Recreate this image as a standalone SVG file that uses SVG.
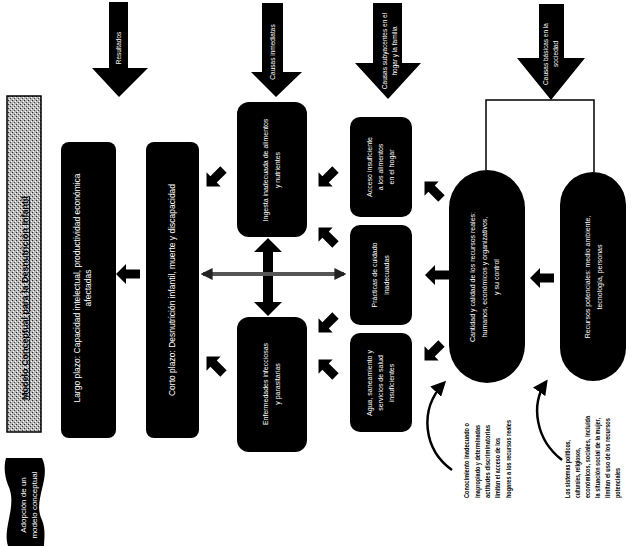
<svg xmlns="http://www.w3.org/2000/svg" width="635" height="548" viewBox="0 0 635 548">
<defs>
<pattern id="dots" width="4" height="4" patternUnits="userSpaceOnUse">
<rect width="4" height="4" fill="#b8b8b8"/>
<rect x="0" y="0" width="1" height="1" fill="#222"/>
<rect x="2" y="2" width="1" height="1" fill="#444"/>
<rect x="3" y="1" width="1" height="1" fill="#fff"/>
<rect x="1" y="3" width="1" height="1" fill="#fff"/>
</pattern>
<path id="ba" d="M-12,0 L-2,-10 L-2,-4.5 L12,-4.5 L12,4.5 L-2,4.5 L-2,10 Z"/>
<marker id="ah" viewBox="0 0 10 10" refX="8" refY="5" markerWidth="6" markerHeight="6" orient="auto-start-reverse">
<path d="M0,0 L10,5 L0,10 Z" fill="#000"/>
</marker>
<marker id="sh" viewBox="0 0 10 10" refX="8" refY="5" markerWidth="3" markerHeight="3" orient="auto-start-reverse">
<path d="M0,0 L10,5 L0,10 Z" fill="#222"/>
</marker>
</defs>
<style>
.box{fill:#000}
.wt{fill:#fff;font-family:"Liberation Sans",Arial,sans-serif;font-size:7px;text-anchor:middle}
.lbl{fill:#fff;font-family:"Liberation Sans",Arial,sans-serif;font-size:6.5px;text-anchor:middle}
.big{fill:#fff;font-family:"Liberation Sans",Arial,sans-serif;font-size:8.5px;text-anchor:middle}
.ann{fill:#000;font-family:"Liberation Sans",Arial,sans-serif;font-size:6.5px;font-weight:bold}
.conn{fill:none;stroke:#000;stroke-width:1.5}
</style>
<rect width="635" height="548" fill="#fff"/>

<g id="title">
<rect x="7" y="96" width="34" height="336" fill="url(#dots)" stroke="#000" stroke-width="1.5"/>
<text transform="translate(28,298) rotate(-90)" style="font-family:'Liberation Sans',Arial,sans-serif;font-size:9px;font-weight:bold;text-anchor:middle;fill:#000" text-decoration="underline">Modelo Conceptual para la Desnutrición Infantil</text>
</g>

<g id="banner">
<path d="M6,458 L42,458 C52,478 32,500 42,520 C46,530 44,540 44,546 L8,546 C2,528 18,505 8,485 C4,475 4,465 6,458 Z" fill="#000"/>
<text transform="translate(26,505) rotate(-90)" class="wt" style="font-size:8px">Adopción de un<tspan x="0" dy="10.5">modelo conceptual</tspan></text>
</g>

<g id="arrow-resultados">
<path d="M109,2 L128,2 L128,68 L148,68 L119,97 L92,68 L109,68 Z" fill="#000"/>
<text transform="translate(121,48) rotate(-90)" class="lbl">Resultados</text>
</g>
<g id="arrow-inmediatas">
<path d="M262,3 L283,3 L283,72 L302,72 L276,97 L251,72 L262,72 Z" fill="#000"/>
<text transform="translate(275,52) rotate(-90)" class="lbl">Causas inmediatas</text>
</g>
<g id="arrow-subyacentes">
<path d="M373,3 L402,3 L402,63 L421,63 L388,99 L355,63 L373,63 Z" fill="#000"/>
<text transform="translate(387,51) rotate(-90)" class="lbl">Causas subyacentes en el<tspan x="0" dy="10">hogar y la familia</tspan></text>
</g>
<g id="arrow-basicas">
<path d="M539,4 L564,4 L564,58 L585,58 L551,100 L517,58 L539,58 Z" fill="#000"/>
<text transform="translate(548,54) rotate(-90)" class="lbl">Causas básicas en la<tspan x="0" dy="10">sociedad</tspan></text>
</g>

<g id="largo">
<rect class="box" x="61" y="142" width="55" height="296" rx="8"/>
<text transform="translate(80,288) rotate(-90)" class="big">Largo plazo: Capacidad intelectual, productividad económica<tspan x="0" dy="10.5">afectadas</tspan></text>
</g>
<g id="corto">
<rect class="box" x="146" y="142" width="53" height="296" rx="8"/>
<text transform="translate(175,290) rotate(-90)" class="big">Corto plazo: Desnutrición infantil, muerte y discapacidad</text>
</g>

<g id="inm-ingesta">
<rect class="box" x="237" y="102" width="70" height="135" rx="12"/>
<text transform="translate(268,170) rotate(-90)" class="wt">Ingesta inadecuada de alimentos<tspan x="0" dy="12">y nutrientes</tspan></text>
</g>
<g id="inm-enfermedad">
<rect class="box" x="237" y="317" width="70" height="135" rx="12"/>
<text transform="translate(268,384) rotate(-90)" class="wt">Enfermedades infecciosas<tspan x="0" dy="12">y parasitarias</tspan></text>
</g>

<g id="sub-alimentos">
<rect class="box" x="350" y="117" width="62" height="100" rx="10"/>
<text transform="translate(372,167) rotate(-90)" class="wt">Acceso insuficiente<tspan x="0" dy="11">a los alimentos</tspan><tspan x="0" dy="11">en el hogar</tspan></text>
</g>
<g id="sub-cuidado">
<rect class="box" x="350" y="225" width="62" height="100" rx="10"/>
<text transform="translate(377,275) rotate(-90)" class="wt">Prácticas de cuidado<tspan x="0" dy="12">inadecuadas</tspan></text>
</g>
<g id="sub-salud">
<rect class="box" x="350" y="333" width="62" height="99" rx="10"/>
<text transform="translate(372,383) rotate(-90)" class="wt">Agua, saneamiento y<tspan x="0" dy="11">servicios de salud</tspan><tspan x="0" dy="11">insuficientes</tspan></text>
</g>

<g id="basica-recursos">
<rect class="box" x="449" y="170" width="76" height="213" rx="38"/>
<text transform="translate(475,277) rotate(-90)" class="wt">Cantidad y calidad de los recursos reales:<tspan x="0" dy="12">humanos, económicos y organizativos,</tspan><tspan x="0" dy="12">y su control</tspan></text>
</g>
<g id="basica-potenciales">
<rect class="box" x="560" y="172" width="66" height="209" rx="33"/>
<text transform="translate(590,277) rotate(-90)" class="wt">Recursos potenciales: medio ambiente,<tspan x="0" dy="12">tecnología, personas</tspan></text>
</g>

<g id="connectors">
<path class="conn" d="M486,170 L486,100 L594,100 L594,172"/>
<path d="M268,238 L282,252 L273,252 L273,302 L282,302 L268,316 L254,302 L263,302 L263,252 L254,252 Z" fill="#000"/>
<line x1="203" y1="274" x2="344" y2="274" stroke="#555" stroke-width="4" marker-start="url(#sh)" marker-end="url(#sh)"/>
<use href="#ba" transform="translate(128,274)"/>
<use href="#ba" transform="translate(215,178) rotate(-45)"/>
<use href="#ba" transform="translate(215,365) rotate(45)"/>
<use href="#ba" transform="translate(327,178) rotate(-45)"/>
<use href="#ba" transform="translate(327,236) rotate(45)"/>
<use href="#ba" transform="translate(327,324) rotate(-45)"/>
<use href="#ba" transform="translate(327,368) rotate(45)"/>
<use href="#ba" transform="translate(433,190) rotate(45)"/>
<use href="#ba" transform="translate(437,275)"/>
<use href="#ba" transform="translate(433,352) rotate(-45)"/>
<use href="#ba" transform="translate(542,278)"/>
<path d="M452,470 C424,450 418,410 444,383" fill="none" stroke="#000" stroke-width="2.5" marker-end="url(#ah)"/>
<path d="M562,460 C536,440 530,405 546,382" fill="none" stroke="#000" stroke-width="2.5" marker-end="url(#ah)"/>
</g>

<g id="nota-conocimiento">
<text class="ann" transform="translate(469,498) rotate(-90)" textLength="75" lengthAdjust="spacingAndGlyphs">Conocimiento inadecuado o</text>
<text class="ann" transform="translate(480,498) rotate(-90)" textLength="73" lengthAdjust="spacingAndGlyphs">inapropiado y determinadas</text>
<text class="ann" transform="translate(490,498) rotate(-90)" textLength="73" lengthAdjust="spacingAndGlyphs">actitudes discriminatorias</text>
<text class="ann" transform="translate(500,498) rotate(-90)" textLength="60" lengthAdjust="spacingAndGlyphs">limitan el acceso de los</text>
<text class="ann" transform="translate(511,498) rotate(-90)" textLength="78" lengthAdjust="spacingAndGlyphs">hogares a los recursos reales</text>
</g>
<g id="nota-sistemas">
<text class="ann" transform="translate(570,498) rotate(-90)" textLength="58" lengthAdjust="spacingAndGlyphs">Los sistemas políticos,</text>
<text class="ann" transform="translate(580,498) rotate(-90)" textLength="50" lengthAdjust="spacingAndGlyphs">culturales, religiosos,</text>
<text class="ann" transform="translate(590,498) rotate(-90)" textLength="82" lengthAdjust="spacingAndGlyphs">económicos, sociales, incluida</text>
<text class="ann" transform="translate(600,498) rotate(-90)" textLength="80" lengthAdjust="spacingAndGlyphs">la situación social de la mujer,</text>
<text class="ann" transform="translate(610,498) rotate(-90)" textLength="80" lengthAdjust="spacingAndGlyphs">limitan el uso de los recursos</text>
<text class="ann" transform="translate(620,498) rotate(-90)" textLength="30" lengthAdjust="spacingAndGlyphs">potenciales</text>
</g>
</svg>
